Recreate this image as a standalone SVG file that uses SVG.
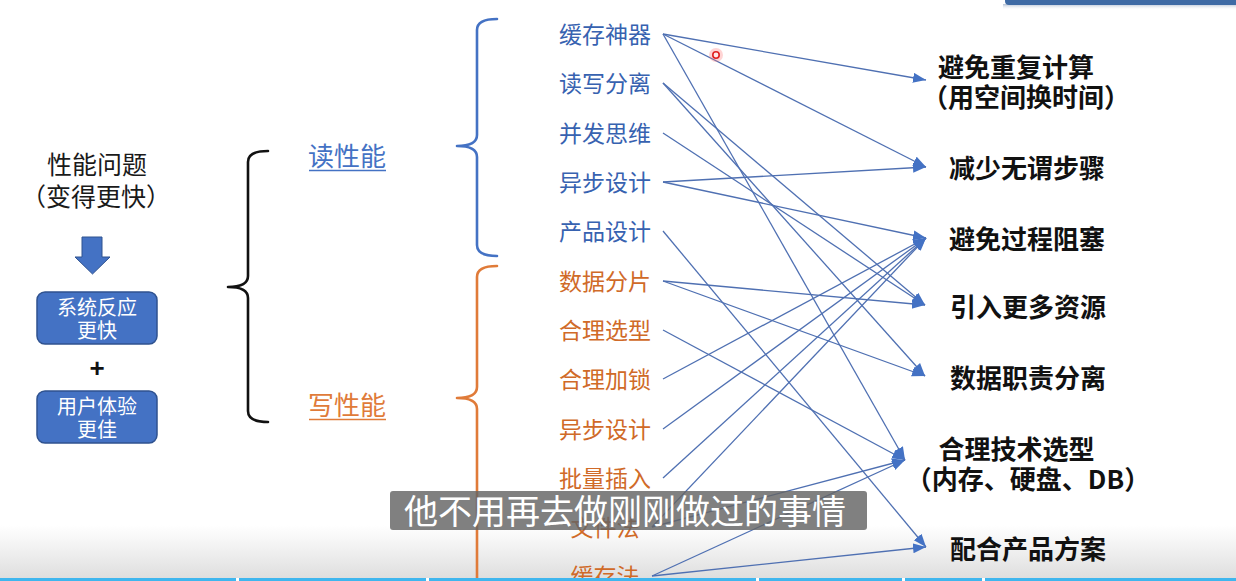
<svg xmlns="http://www.w3.org/2000/svg" width="1236" height="581" viewBox="0 0 1236 581">
<defs>
<style>
.cjk{font-family:"Noto Sans CJK SC","Noto Sans",sans-serif}
.title{font-size:25px;fill:#1a1a1a;text-anchor:middle}
.boxt{font-size:20px;fill:#ffffff;text-anchor:middle}
.box{fill:#4472C4;stroke:#2F528F;stroke-width:1.5}
.mid{font-size:23px;text-anchor:middle}
.blue{fill:#3762B0}
.orange{fill:#D06A28}
.cat{font-size:26px;text-anchor:middle}
.res{font-size:26px;font-weight:700;fill:#111111;text-anchor:middle}
.brace{fill:none;stroke-width:2.6;stroke-linecap:round;stroke-linejoin:round}
.conn line{stroke:#4F70B2;stroke-width:1.3;marker-end:url(#ah)}
.sub{font-size:34px;fill:#ffffff;text-anchor:middle}
</style>
<marker id="ah" markerUnits="userSpaceOnUse" markerWidth="15" markerHeight="12" refX="13" refY="5" orient="auto">
<path d="M0,0 L13,5 L0,10 z" fill="#4472C4"/>
</marker>
<linearGradient id="botg" x1="0" y1="0" x2="0" y2="1">
<stop offset="0" stop-color="#dcdcdc" stop-opacity="0"/>
<stop offset="1" stop-color="#d8d8d8" stop-opacity="0.9"/>
</linearGradient>
<linearGradient id="barsh" x1="0" y1="0" x2="0" y2="1">
<stop offset="0" stop-color="#7f95b5" stop-opacity="0.6"/>
<stop offset="1" stop-color="#ffffff" stop-opacity="0"/>
</linearGradient>
</defs>
<rect width="1236" height="581" fill="#ffffff"/>

<!-- bottom shading -->
<rect x="0" y="525" width="1236" height="56" fill="url(#botg)"/>

<!-- top-right bar -->
<rect x="1003" y="4" width="240" height="6" fill="url(#barsh)"/>
<rect x="1005" y="-4" width="240" height="9" rx="4" fill="#3F6BA5"/>

<!-- left column -->
<g id="perf-title" class="cjk">
<text class="title" x="97" y="174">性能问题</text>
<text class="title" x="96" y="206">（变得更快）</text>
</g>
<g id="down-arrow">
<polygon points="82,237 102,237 102,257 110,257 92.5,274 75,257 82,257" fill="#4472C4" stroke="#2F528F" stroke-width="1"/>
</g>
<g id="box-faster" class="cjk">
<rect class="box" x="37" y="292" width="120" height="52" rx="8"/>
<text class="boxt" x="97" y="315">系统反应</text>
<text class="boxt" x="97" y="338">更快</text>
</g>
<g id="plus">
<text x="97" y="377" font-family="Liberation Sans, sans-serif" font-size="26" font-weight="700" fill="#111" text-anchor="middle">+</text>
</g>
<g id="box-better" class="cjk">
<rect class="box" x="37" y="391" width="120" height="52" rx="8"/>
<text class="boxt" x="97" y="413.5">用户体验</text>
<text class="boxt" x="97" y="436.5">更佳</text>
</g>

<!-- braces -->
<g id="brace-main">
<path class="brace" stroke="#111111" d="M268,151 Q248,151 248,162 L248,276 Q248,287 228,287 Q248,287 248,298 L248,411 Q248,422 268,422"/>
</g>
<g id="read-perf" class="cjk">
<text class="cat" x="347" y="166" fill="#4472C4">读性能</text>
<line x1="309" y1="170.5" x2="386" y2="170.5" stroke="#4472C4" stroke-width="1.6"/>
</g>
<g id="write-perf" class="cjk">
<text class="cat" x="347" y="415" fill="#E07B39">写性能</text>
<line x1="309" y1="419.5" x2="386" y2="419.5" stroke="#E07B39" stroke-width="1.6"/>
</g>
<g id="brace-read">
<path class="brace" stroke="#4472C4" d="M497,19 Q477,19 477,30 L477,135 Q477,146 457,146 Q477,146 477,157 L477,245 Q477,256 497,256"/>
</g>
<g id="brace-write">
<path class="brace" stroke="#E07B39" d="M497,266 Q477,266 477,277 L477,387 Q477,398 457,398 Q477,398 477,409 L477,600"/>
</g>

<!-- middle techniques -->
<g id="t-cache" class="cjk"><text class="mid blue" x="605" y="42.7">缓存神器</text></g>
<g id="t-rwsplit" class="cjk"><text class="mid blue" x="605" y="92">读写分离</text></g>
<g id="t-concurrency" class="cjk"><text class="mid blue" x="605" y="141.7">并发思维</text></g>
<g id="t-async-read" class="cjk"><text class="mid blue" x="605" y="191">异步设计</text></g>
<g id="t-product" class="cjk"><text class="mid blue" x="605" y="240">产品设计</text></g>
<g id="t-sharding" class="cjk"><text class="mid orange" x="605" y="289.7">数据分片</text></g>
<g id="t-selection" class="cjk"><text class="mid orange" x="605" y="339">合理选型</text></g>
<g id="t-locking" class="cjk"><text class="mid orange" x="605" y="388">合理加锁</text></g>
<g id="t-async-write" class="cjk"><text class="mid orange" x="605" y="437.7">异步设计</text></g>
<g id="t-batch" class="cjk"><text class="mid orange" x="605" y="486.7">批量插入</text></g>
<g id="t-file" class="cjk"><text class="mid orange" x="605" y="535.7">文件法</text></g>
<g id="t-cachewrite" class="cjk"><text class="mid orange" x="605" y="585">缓存法</text></g>

<!-- right results -->
<g id="r-recompute" class="cjk">
<text class="res" x="1016" y="77">避免重复计算</text>
<text class="res" x="1026" y="107">（用空间换时间）</text>
</g>
<g id="r-steps" class="cjk"><text class="res" x="1027" y="178">减少无谓步骤</text></g>
<g id="r-block" class="cjk"><text class="res" x="1027" y="249">避免过程阻塞</text></g>
<g id="r-resources" class="cjk"><text class="res" x="1028" y="317">引入更多资源</text></g>
<g id="r-duty" class="cjk"><text class="res" x="1028" y="387.5">数据职责分离</text></g>
<g id="r-tech" class="cjk">
<text class="res" x="1016.5" y="459">合理技术选型</text>
<text class="res" x="1028" y="489">（内存、硬盘、DB）</text>
</g>
<g id="r-product" class="cjk"><text class="res" x="1028" y="559">配合产品方案</text></g>

<!-- connectors -->
<g id="connectors" class="conn">
<line x1="663" y1="34" x2="926" y2="80"/>
<line x1="663" y1="34" x2="926" y2="167"/>
<line x1="663" y1="34" x2="905" y2="460"/>
<line x1="663" y1="83" x2="925" y2="305"/>
<line x1="663" y1="83" x2="925" y2="376"/>
<line x1="663" y1="133" x2="925" y2="305"/>
<line x1="663" y1="182" x2="926" y2="167"/>
<line x1="663" y1="182" x2="926" y2="238"/>
<line x1="663" y1="231" x2="926" y2="547"/>
<line x1="663" y1="281" x2="925" y2="305"/>
<line x1="663" y1="281" x2="925" y2="376"/>
<line x1="663" y1="330" x2="905" y2="460"/>
<line x1="663" y1="379" x2="926" y2="238"/>
<line x1="663" y1="429" x2="926" y2="238"/>
<line x1="663" y1="478" x2="926" y2="238"/>
<line x1="652" y1="527" x2="926" y2="238"/>
<line x1="652" y1="527" x2="905" y2="460"/>
<line x1="652" y1="576" x2="905" y2="460"/>
<line x1="652" y1="576" x2="926" y2="547"/>
</g>

<!-- cursor -->
<circle cx="716" cy="55" r="7" fill="#ff7070" opacity="0.3"/>
<circle cx="716" cy="55" r="3.2" fill="#ffe8e8" stroke="#e02020" stroke-width="1.6"/>

<!-- subtitle -->
<g id="subtitle" class="cjk">
<rect x="390" y="491" width="477" height="39" rx="3" fill="#646464" opacity="0.82"/>
<text class="sub" x="625" y="523.5">他不用再去做刚刚做过的事情</text>
</g>

<!-- progress bar -->
<g id="progress">
<rect x="0" y="578" width="1236" height="3" fill="#3FB6EE"/>
<rect x="236" y="578" width="3" height="3" fill="#ffffff"/>
<rect x="426" y="578" width="3" height="3" fill="#ffffff"/>
<rect x="756" y="578" width="3" height="3" fill="#ffffff"/>
<rect x="902" y="578" width="3" height="3" fill="#ffffff"/>
<rect x="982" y="578" width="3" height="3" fill="#ffffff"/>
</g>
</svg>
